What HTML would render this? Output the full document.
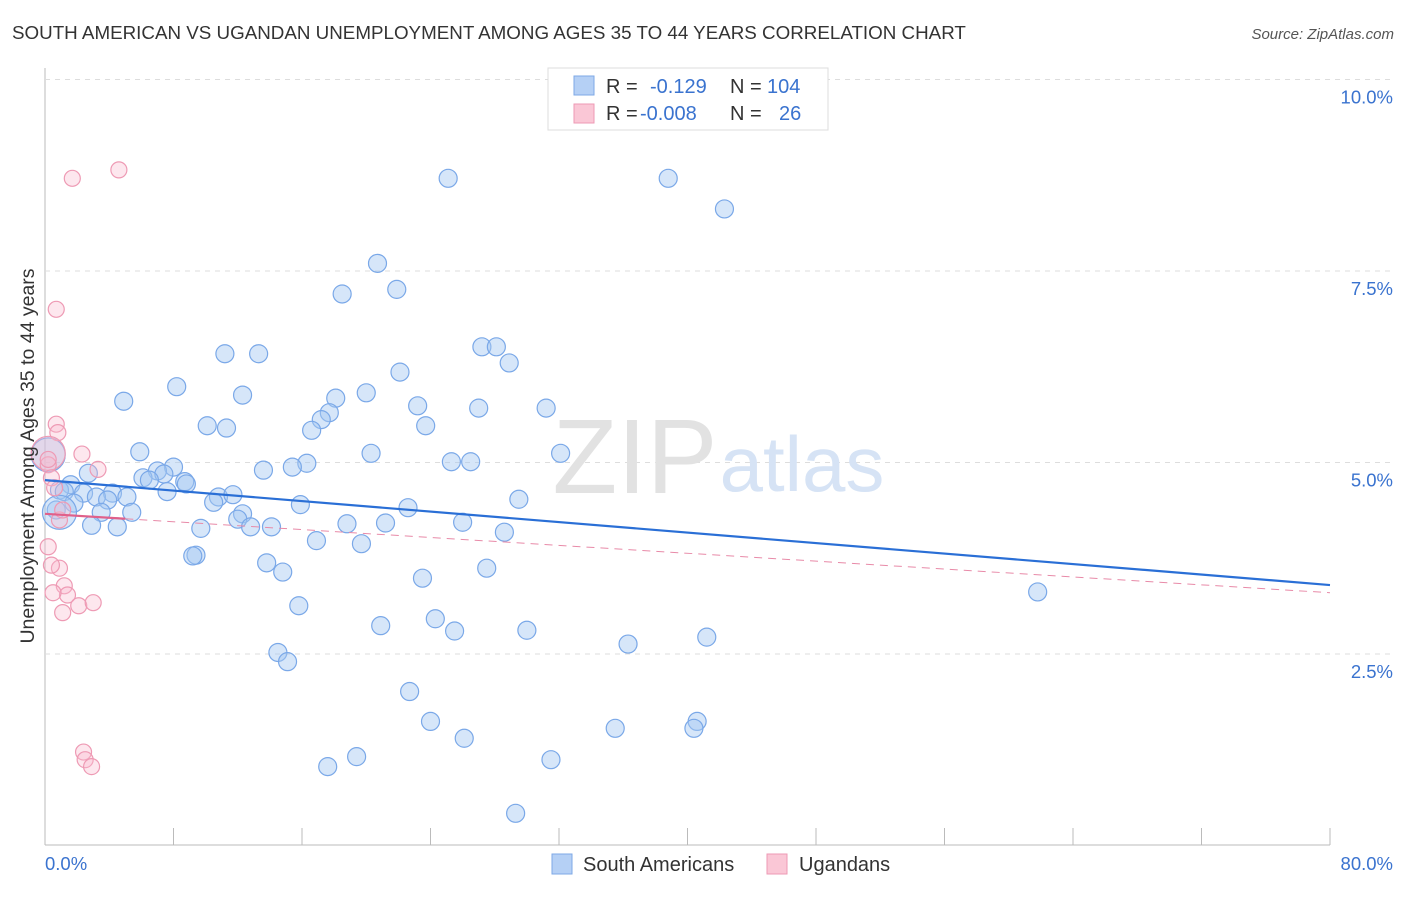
<!DOCTYPE html>
<html><head><meta charset="utf-8"><style>
body{margin:0;background:#fff;font-family:"Liberation Sans",sans-serif;}
svg text{font-family:"Liberation Sans",sans-serif;}
</style></head><body>
<svg id="chart" width="1406" height="892" viewBox="0 0 1406 892">
<text x="12" y="39" font-size="18.8" fill="#333">SOUTH AMERICAN VS UGANDAN UNEMPLOYMENT AMONG AGES 35 TO 44 YEARS CORRELATION CHART</text>
<text x="1394" y="39" font-size="15" fill="#555" font-style="italic" text-anchor="end">Source: ZipAtlas.com</text>
<g id="grid"></g>
<text x="635" y="493" font-size="106" fill="#e2e2e2" font-family="Liberation Serif" text-anchor="middle">ZIP</text>
<text x="802" y="491" font-size="78" fill="#d6e3f5" text-anchor="middle">atlas</text>
<g id="marks"></g>
<g id="lines"></g>
<text x="28" y="462" font-size="19.5" fill="#333" text-anchor="middle" transform="rotate(-90 28 456)">Unemployment Among Ages 35 to 44 years</text>
<g>
<rect x="548" y="68" width="280" height="62" fill="#fff" stroke="#ddd"/>
<rect x="574" y="76" width="20" height="19" fill="#b5d0f5" stroke="#7ea8e6"/>
<rect x="574" y="104" width="20" height="19" fill="#fac7d6" stroke="#ee9ab4"/>
<text x="606" y="93" font-size="20" fill="#333">R = </text><text x="650" y="93" font-size="20" fill="#3a73cf">-0.129</text>
<text x="730" y="93" font-size="20" fill="#333">N = </text><text x="767" y="93" font-size="20" fill="#3a73cf">104</text>
<text x="606" y="120" font-size="20" fill="#333">R = </text><text x="640" y="120" font-size="20" fill="#3a73cf">-0.008</text>
<text x="730" y="120" font-size="20" fill="#333">N = </text><text x="779" y="120" font-size="20" fill="#3a73cf">26</text>
</g>
<g>
<rect x="552" y="854" width="20" height="20" fill="#b5d0f5" stroke="#7ea8e6"/>
<text x="583" y="871" font-size="20" fill="#333">South Americans</text>
<rect x="767" y="854" width="20" height="20" fill="#fac7d6" stroke="#ee9ab4"/>
<text x="799" y="871" font-size="20" fill="#333">Ugandans</text>
</g>
</svg>
<script>
const blueX=[25.1,38.8,42.3,20.7,18.5,21.9,11.2,13.3,27.2,28.1,28.9,22.1,8.2,4.9,12.3,18.1,20.0,17.7,23.2,27.0,31.2,10.1,11.3,17.2,16.6,23.7,20.3,5.9,32.1,25.3,26.5,16.3,15.4,13.6,8.0,7.0,7.4,6.1,6.5,8.7,8.8,2.7,1.6,0.9,1.2,2.4,4.2,3.2,5.1,7.6,10.8,11.7,10.5,15.9,22.6,29.5,3.9,1.8,0.7,3.5,5.4,12.3,12.0,12.8,14.1,2.9,4.5,9.7,18.8,21.2,26.0,28.6,16.9,19.7,9.4,9.2,13.8,14.8,23.5,27.5,15.8,61.8,20.9,24.3,25.5,30.0,36.3,41.2,14.5,15.1,22.7,24.0,35.5,40.6,40.4,26.1,19.4,17.6,31.5,29.3,0.2,0.9];
const blueY=[8.71,8.71,8.31,7.60,7.20,7.26,6.42,6.42,6.51,6.51,6.30,6.18,5.99,5.80,5.88,5.84,5.91,5.65,5.74,5.71,5.71,5.48,5.45,5.56,5.42,5.48,5.12,5.14,5.12,5.01,5.01,4.99,4.94,4.90,4.94,4.89,4.85,4.80,4.77,4.75,4.72,4.86,4.71,4.64,4.62,4.60,4.60,4.55,4.55,4.62,4.55,4.58,4.48,4.45,4.41,4.52,4.51,4.47,4.38,4.35,4.35,4.33,4.26,4.16,4.16,4.18,4.16,4.14,4.20,4.21,4.22,4.09,3.98,3.94,3.79,3.78,3.69,3.57,3.49,3.62,3.13,3.31,2.87,2.96,2.80,2.81,2.63,2.72,2.52,2.40,2.01,1.62,1.53,1.62,1.53,1.40,1.16,1.03,1.12,0.42,5.10,4.35];
const blueBig=[100,101];
const pinkX=[1.7,4.6,0.7,0.7,0.8,0.2,0.2,2.3,3.3,0.4,0.6,0.9,1.1,0.2,0.9,0.4,1.2,1.4,0.5,2.1,3.0,1.1,2.4,2.5,2.9,0.2];
const pinkY=[8.71,8.82,7.00,5.50,5.39,5.12,4.97,5.11,4.91,4.80,4.67,4.25,4.38,3.90,3.62,3.66,3.39,3.27,3.30,3.13,3.17,3.04,1.22,1.12,1.03,5.04];
const pinkBig=[5];
const blueTrend=[4.77,3.40];
const pinkTrend=[4.33,3.30];
const yTicks=[2.5,5.0,7.5,10.0];
const xTickCount=10;

const X0=45,X1=1330,Y0=845.5,PPY=76.6;
const sx=v=>X0+(v/80)*(X1-X0);
const sy=v=>Y0-v*PPY;
const NS='http://www.w3.org/2000/svg';
function mk(t,a,p){const e=document.createElementNS(NS,t);for(const k in a)e.setAttribute(k,a[k]);p.appendChild(e);return e;}
const grid=document.getElementById('grid'),marks=document.getElementById('marks'),lines=document.getElementById('lines');
mk('line',{x1:X0,y1:68,x2:X0,y2:845,stroke:'#bbb'},grid);
mk('line',{x1:X0,y1:845,x2:X1,y2:845,stroke:'#bbb'},grid);
yTicks.forEach(t=>{
 const g=mk('line',{x1:X0,y1:sy(t),x2:1394,y2:sy(t),stroke:'#ddd','stroke-dasharray':'5,5'},grid);
 
 
 const tx=mk('text',{x:1393,y:sy(t)+24,'font-size':18.5,fill:'#3a73cf','text-anchor':'end'},grid);
 tx.textContent=t.toFixed(1)+'%';
 
 
});
for(let i=0;i<=xTickCount;i++){
 const x=sx(i*8);
 const l=mk('line',{x1:x,y1:828,x2:x,y2:845,stroke:'#bbb'},grid);
 
 
}
const xl=mk('text',{x:45,y:870,'font-size':18.5,fill:'#3a73cf'},grid);xl.textContent='0.0%';


const xr=mk('text',{x:1393,y:870,'font-size':18.5,fill:'#3a73cf','text-anchor':'end'},grid);xr.textContent='80.0%';



blueX.forEach((v,i)=>{
 const c=mk('circle',{cx:sx(v),cy:sy(blueY[i]),r:blueBig.includes(i)?17:9,fill:'rgba(165,200,242,0.45)',stroke:'#7aa8e8','stroke-width':1.2},marks);
 
 
});
pinkX.forEach((v,i)=>{
 const c=mk('circle',{cx:sx(v),cy:sy(pinkY[i]),r:pinkBig.includes(i)?17:8,fill:'rgba(248,185,205,0.35)',stroke:'#ee9ab4','stroke-width':1.2},marks);
 
 
});
const bl=mk('line',{x1:sx(0),y1:sy(blueTrend[0]),x2:sx(80),y2:sy(blueTrend[1]),stroke:'#2a6fd6','stroke-width':2.2},lines);


const pAt=v=>pinkTrend[0]+(pinkTrend[1]-pinkTrend[0])*v/80;
const ps=mk('line',{x1:sx(0),y1:sy(pAt(0)),x2:sx(5),y2:sy(pAt(5)),stroke:'#e0608a','stroke-width':2.2},lines);


const pd=mk('line',{x1:sx(5),y1:sy(pAt(5)),x2:sx(80),y2:sy(pAt(80)),stroke:'#e88aa8','stroke-width':1,'stroke-dasharray':'8,6'},lines);


</script>
</body></html>
